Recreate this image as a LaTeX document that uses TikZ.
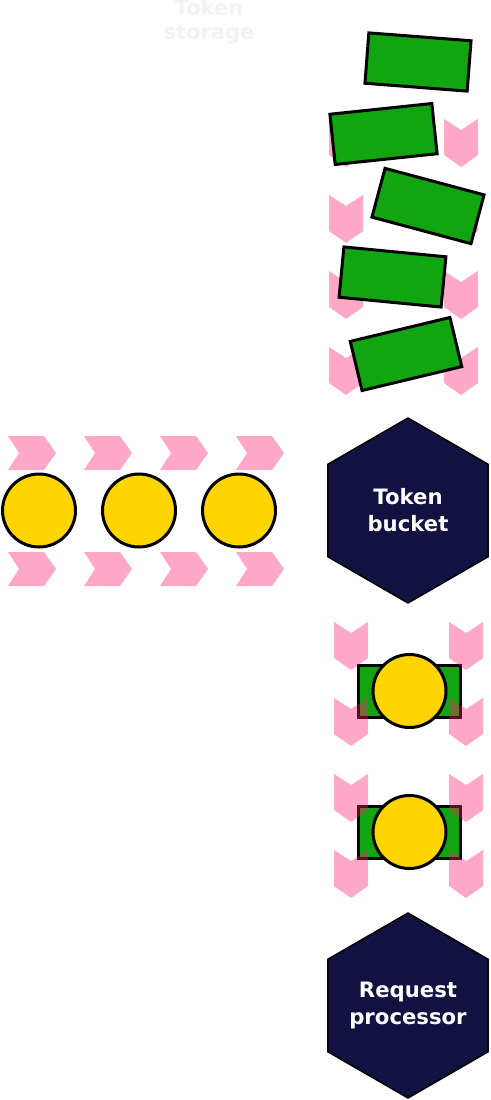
\documentclass[tikz,border=0pt]{standalone}
\usepackage{fontspec}
\setmainfont{DejaVu Sans}
\definecolor{navy}{RGB}{17,17,66}
\definecolor{tokgreen}{RGB}{17,166,17}
\definecolor{gold}{RGB}{255,213,0}
\definecolor{chevpink}{RGB}{255,26,110}
\definecolor{ghost}{RGB}{243,243,243}
\newcommand\chevD[2]{\fill[chev] (#1,#2) -- ++(17,11) -- ++(17,-11) -- ++(0,36) -- ++(-17,12) -- ++(-17,-12) -- cycle;}
\newcommand\chevR[2]{\fill[chev] (#1,#2) -- ++(36,0) -- ++(12,17) -- ++(-12,17) -- ++(-36,0) -- ++(11,-17) -- cycle;}
\begin{document}
\begin{tikzpicture}[x=1pt,y=-1pt,
  chev/.style={fill=chevpink,fill opacity=0.38},
  greenrect/.style={draw=black,line width=3pt,fill=tokgreen,minimum width=102.5pt,minimum height=50.5pt,inner sep=0pt},
  coin/.style={circle,draw=black,line width=3pt,fill=gold,minimum size=73pt,inner sep=0pt},
  hexbox/.style={draw=black,line width=1.5pt,fill=navy},
  hextext/.style={text=white,font=\bfseries\fontsize{21.2}{27}\selectfont,align=center,inner sep=0pt}]
\useasboundingbox (0,0) rectangle (490,1100);
% title
\node[text=ghost,font=\bfseries\fontsize{21}{24}\selectfont,align=center,inner sep=0pt] (storage) at (209,22) {Token\\storage};
% upper column chevrons
\foreach \yy in {119,195,271,347} {\chevD{329}{\yy}\chevD{444}{\yy}}
% tokens in storage
\node[greenrect,rotate=-4.4] (r1) at (418,62) {};
\node[greenrect,rotate=6] (r2) at (383.5,134) {};
\node[greenrect,rotate=-15] (r3) at (428,206) {};
\node[greenrect,rotate=-5.5] (r4) at (392.5,277) {};
\node[greenrect,rotate=13.5] (r5) at (406,354) {};
% token bucket
\draw[hexbox] (408,418) -- (488.1,464.25) -- (488.1,556.75) -- (408,603) -- (327.9,556.75) -- (327.9,464.25) -- cycle;
\node[hextext] (bucket) at (408,510.5) {Token\\bucket};
% request row
\foreach \xx in {8,84,160,236} {\chevR{\xx}{436}\chevR{\xx}{552}}
\node[coin] (c1) at (39,510.5) {};
\node[coin] (c2) at (139,510.5) {};
\node[coin] (c3) at (239,510.5) {};
% paired tokens and requests
\node[greenrect,minimum height=52pt] (p1) at (409.5,691) {};
\node[coin] (q1) at (409.5,691) {};
\node[greenrect,minimum height=52pt] (p2) at (409.5,832) {};
\node[coin] (q2) at (409.5,832) {};
\foreach \yy in {622,698,774,850} {\chevD{334}{\yy}\chevD{449}{\yy}}
% request processor
\draw[hexbox] (408,913) -- (488.1,959.25) -- (488.1,1051.75) -- (408,1098) -- (327.9,1051.75) -- (327.9,959.25) -- cycle;
\node[hextext] (proc) at (408,1005.5) {Request\\processor};
\end{tikzpicture}
\end{document}
